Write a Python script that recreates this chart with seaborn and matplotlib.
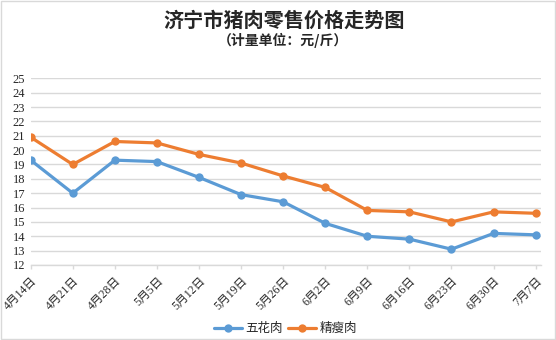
import matplotlib
matplotlib.use("Agg")
import matplotlib.pyplot as plt
import matplotlib.transforms as mtransforms
import seaborn as sns
import pandas as pd
from matplotlib.patches import Rectangle

dates = ["4月14日", "4月21日", "4月28日", "5月5日", "5月12日", "5月19日", "5月26日",
         "6月2日", "6月9日", "6月16日", "6月23日", "6月30日", "7月7日"]
wuhua = [19.3, 17.0, 19.3, 19.2, 18.1, 16.9, 16.4, 14.9, 14.0, 13.8, 13.1, 14.2, 14.1]
jingshou = [20.9, 19.0, 20.6, 20.5, 19.7, 19.1, 18.2, 17.4, 15.8, 15.7, 15.0, 15.7, 15.6]
series_names = ["五花肉", "精瘦肉"]
colors = ["#5B9BD5", "#ED7D31"]

rows = []
for name, vals in zip(series_names, [wuhua, jingshou]):
    for i, v in enumerate(vals):
        rows.append({"idx": i, "price": v, "series": name})
df = pd.DataFrame(rows)

sns.set_theme(style="white")
plt.rcParams["font.family"] = ["Liberation Serif", "Noto Sans CJK SC", "DejaVu Sans"]

fig = plt.figure(figsize=(5.56, 3.40), dpi=100)
ax = fig.add_axes([0.0552, 0.2206, 0.9173, 0.5491])

sns.lineplot(data=df, x="idx", y="price", hue="series", palette=colors,
             marker="o", markersize=6, markeredgewidth=0, linewidth=2.3,
             sort=False, ax=ax, legend=True)

ax.set_ylim(12, 25)
ax.set_xlim(0, 12.12)
ax.set_yticks(range(12, 26))
ax.set_yticklabels([str(v) for v in range(12, 26)], fontsize=9,
                   family=["Liberation Serif"])
ax.set_xticks(range(len(dates)))
ax.set_xticklabels(dates, rotation=45, ha="right", va="top",
                   rotation_mode="anchor",
                   fontsize=8.5, family=["Liberation Serif", "Noto Sans CJK SC"])
offset = mtransforms.ScaledTranslation(7 / 100, -4 / 100, fig.dpi_scale_trans)
for lab in ax.get_xticklabels():
    lab.set_transform(lab.get_transform() + offset)
ax.set_xlabel("")
ax.set_ylabel("")
ax.yaxis.grid(True, color="#D9D9D9", linewidth=1)
ax.set_axisbelow(True)
for s in ["left", "top", "right"]:
    ax.spines[s].set_visible(False)
ax.spines["bottom"].set_color("#D9D9D9")
ax.spines["bottom"].set_linewidth(1)
ax.tick_params(axis="x", which="both", bottom=True, length=3, color="#D9D9D9",
               width=1, pad=4)
ax.tick_params(axis="y", length=0, pad=4)

leg = ax.legend(loc="upper center", bbox_to_anchor=(0.5, -0.245),
                ncol=2, frameon=False, handlelength=2.2,
                columnspacing=0.4, handletextpad=0.3,
                prop={"family": ["Noto Sans CJK SC"], "size": 9})

fig.text(0.511, 0.94, "济宁市猪肉零售价格走势图", ha="center", va="center",
         fontsize=14.5, fontweight="bold", family=["Noto Sans CJK SC"])
fig.text(0.509, 0.882, "（计量单位：元/斤）", ha="center", va="center",
         fontsize=10, fontweight="bold", family=["Noto Sans CJK SC"])

fig.patches.append(Rectangle((0.001, 0.002), 0.997, 0.995, transform=fig.transFigure,
                             fill=False, edgecolor="#D9D9D9", linewidth=1))

fig.savefig("out.png", dpi=100)
